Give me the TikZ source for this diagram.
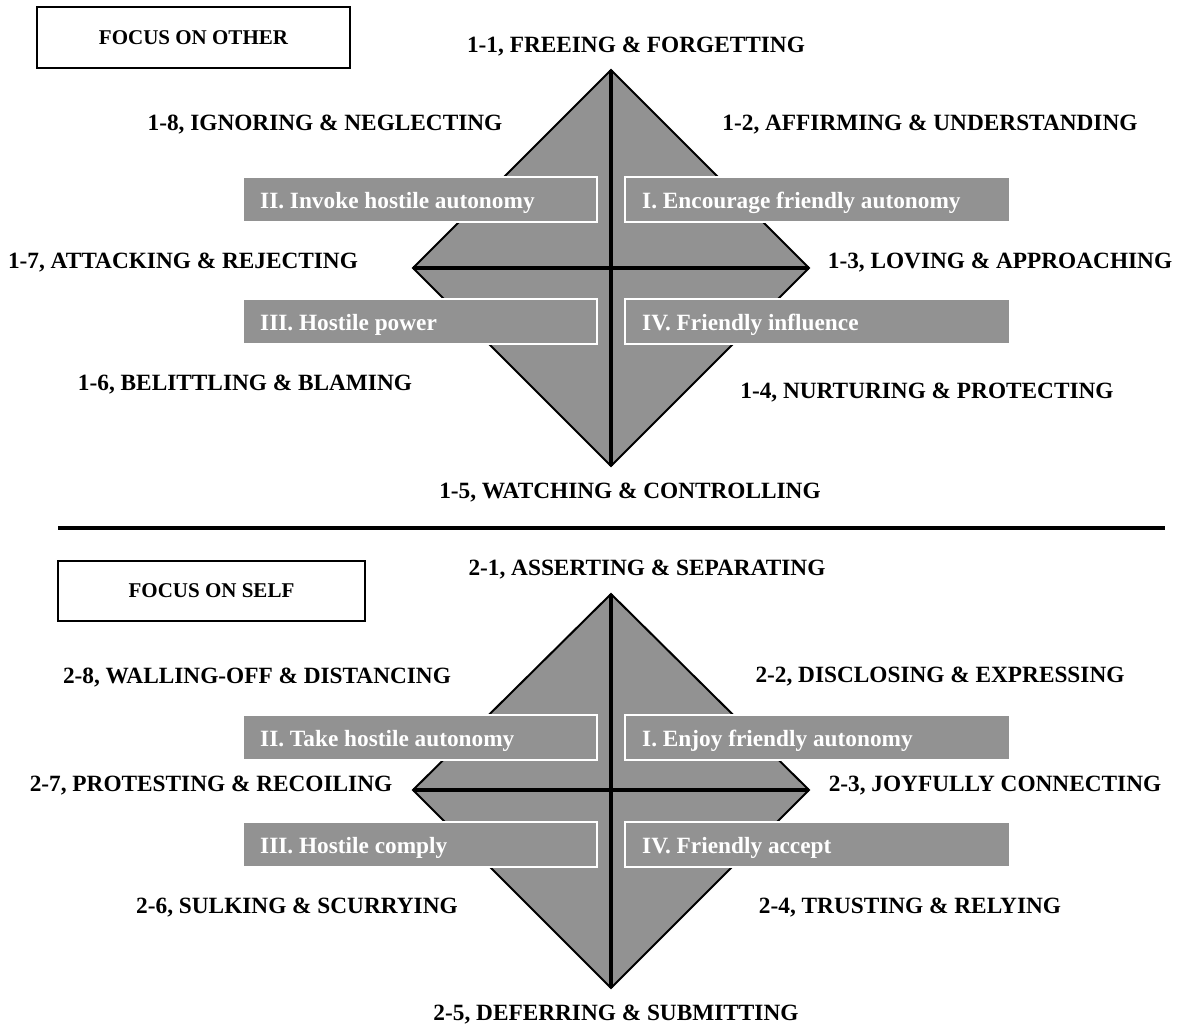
\documentclass[tikz,border=0pt]{standalone}
\usepackage{fontspec}
\setmainfont{Liberation Serif}
\definecolor{dgray}{RGB}{146,146,146}
\begin{document}
\begin{tikzpicture}[x=1pt,y=-1pt,
  lbl/.style={font=\fontsize{23.3}{27}\selectfont\bfseries, inner sep=0pt, yshift=-2pt},
  qbox/.style={fill=dgray, draw=white, line width=1.2pt, minimum height=45pt, inner sep=0pt},
  qtext/.style={font=\fontsize{23.3}{27}\selectfont\bfseries, text=white, inner sep=0pt, anchor=west, yshift=-2.5pt},
  focus/.style={draw=black, line width=1.3pt, font=\fontsize{21}{25}\selectfont\bfseries, inner sep=0pt},
  dia/.style={fill=dgray, draw=black, line width=2pt, line join=miter},
  cross/.style={draw=black, line width=3.2pt}]
\useasboundingbox (0,0) rectangle (1179,1027);

% ---------- top panel ----------
\node[focus, minimum width=313pt, minimum height=61pt] (fo) at (193.5,37.5) {FOCUS ON OTHER};

\coordinate (t1) at (611,70);
\coordinate (l1) at (413,268);
\coordinate (r1) at (809,268);
\coordinate (b1) at (611,466);
\path[dia] (t1) -- (r1) -- (b1) -- (l1) -- cycle;
\draw[cross] (l1) -- (r1);
\draw[cross] (t1) -- (b1);

\node[qbox, minimum width=354pt] (q2a) at (420,199.5) {};
\node[qbox, minimum width=385pt] (q1a) at (817.5,199.5) {};
\node[qbox, minimum width=354pt] (q3a) at (420,321.5) {};
\node[qbox, minimum width=385pt] (q4a) at (817.5,321.5) {};
\node[qtext] (q2at) at (260,200) {II. Invoke hostile autonomy};
\node[qtext] (q1at) at (642,200) {I. Encourage friendly autonomy};
\node[qtext] (q3at) at (260,322) {III. Hostile power};
\node[qtext] (q4at) at (642,322) {IV. Friendly influence};

\node[lbl] (o1) at (636,45) {1-1, FREEING \& FORGETTING};
\node[lbl] (o8) at (325,123) {1-8, IGNORING \& NEGLECTING};
\node[lbl] (o2) at (930,123) {1-2, AFFIRMING \& UNDERSTANDING};
\node[lbl] (o7) at (183,261) {1-7, ATTACKING \& REJECTING};
\node[lbl] (o3) at (1000,261) {1-3, LOVING \& APPROACHING};
\node[lbl] (o6) at (245,383) {1-6, BELITTLING \& BLAMING};
\node[lbl] (o4) at (927,391) {1-4, NURTURING \& PROTECTING};
\node[lbl] (o5) at (630,491) {1-5, WATCHING \& CONTROLLING};

% ---------- separator ----------
\coordinate (sepL) at (58,528);
\coordinate (sepR) at (1165,528);
\draw[line width=4pt] (sepL) -- (sepR);

% ---------- bottom panel ----------
\node[focus, minimum width=307pt, minimum height=60pt] (fs) at (211.5,591) {FOCUS ON SELF};

\coordinate (t2) at (611,594);
\coordinate (l2) at (413,790);
\coordinate (r2) at (809,790);
\coordinate (b2) at (611,988);
\path[dia] (t2) -- (r2) -- (b2) -- (l2) -- cycle;
\draw[cross] (l2) -- (r2);
\draw[cross] (t2) -- (b2);

\node[qbox, minimum width=354pt] (q2b) at (420,737.5) {};
\node[qbox, minimum width=385pt] (q1b) at (817.5,737.5) {};
\node[qbox, minimum width=354pt] (q3b) at (420,844.5) {};
\node[qbox, minimum width=385pt] (q4b) at (817.5,844.5) {};
\node[qtext] (q2bt) at (260,738) {II. Take hostile autonomy};
\node[qtext] (q1bt) at (642,738) {I. Enjoy friendly autonomy};
\node[qtext] (q3bt) at (260,845) {III. Hostile comply};
\node[qtext] (q4bt) at (642,845) {IV. Friendly accept};

\node[lbl] (s1) at (647,568) {2-1, ASSERTING \& SEPARATING};
\node[lbl] (s8) at (257,676) {2-8, WALLING-OFF \& DISTANCING};
\node[lbl] (s2) at (940,675) {2-2, DISCLOSING \& EXPRESSING};
\node[lbl] (s7) at (211,784) {2-7, PROTESTING \& RECOILING};
\node[lbl] (s3) at (995,784) {2-3, JOYFULLY CONNECTING};
\node[lbl] (s6) at (297,906) {2-6, SULKING \& SCURRYING};
\node[lbl] (s4) at (910,906) {2-4, TRUSTING \& RELYING};
\node[lbl] (s5) at (616,1013) {2-5, DEFERRING \& SUBMITTING};
\end{tikzpicture}
\end{document}
